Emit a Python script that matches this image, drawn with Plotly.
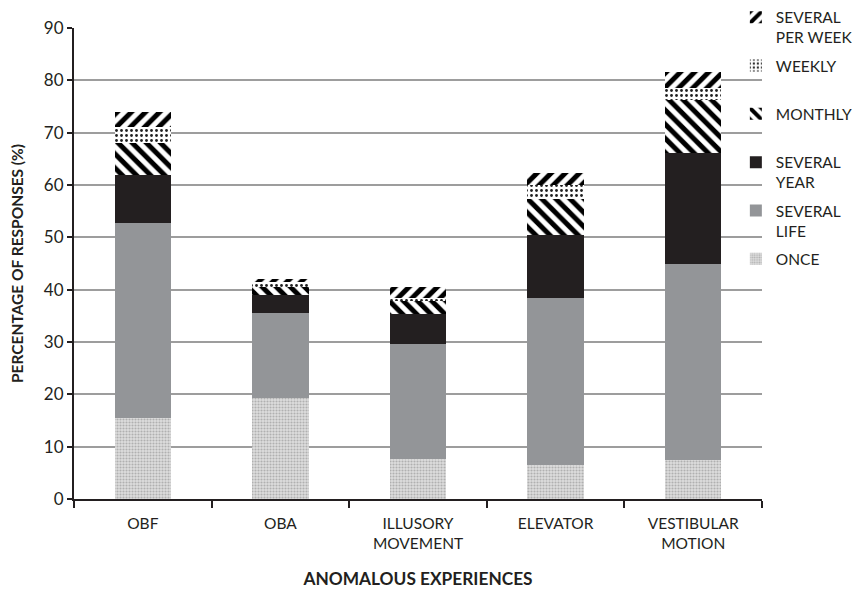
import plotly.graph_objects as go

categories = ["OBF", "OBA", "ILLUSORY<br>MOVEMENT", "ELEVATOR", "VESTIBULAR<br>MOTION"]
once = [15.5, 19.3, 7.6, 6.5, 7.5]
several_life = [37.2, 16.2, 22.0, 31.9, 37.4]
several_year = [9.2, 3.5, 5.7, 12.0, 21.3]
monthly = [6.1, 1.6, 2.6, 6.9, 10.0]
weekly = [3.1, 0.9, 0.6, 2.7, 2.3]
several_per_week = [2.9, 0.5, 2.1, 2.3, 3.0]
y_ticks = [0, 10, 20, 30, 40, 50, 60, 70, 80, 90]

FONT = "Lato"

series = [
    ("ONCE", once, dict(color="#d4d4d4", pattern=dict(shape=".", fgcolor="#b0b0b0", bgcolor="#dedede", size=3, solidity=0.4, fgopacity=1))),
    ("SEVERAL<br>LIFE", several_life, dict(color="#939598")),
    ("SEVERAL<br>YEAR", several_year, dict(color="#231f20")),
    ("MONTHLY<br> ", monthly, dict(color="white", pattern=dict(shape="\\", fgcolor="#000000", bgcolor="white", size=10, solidity=0.5, fgopacity=1))),
    ("WEEKLY<br> ", weekly, dict(color="white", pattern=dict(shape=".", fgcolor="#222222", bgcolor="white", size=5, solidity=0.25, fgopacity=1))),
    ("SEVERAL<br>PER WEEK", several_per_week, dict(color="white", pattern=dict(shape="/", fgcolor="#000000", bgcolor="white", size=10, solidity=0.5, fgopacity=1))),
]

fig = go.Figure()
n = len(series)
for i, (name, vals, marker) in enumerate(series):
    marker = dict(marker)
    marker["line"] = dict(width=0)
    fig.add_trace(go.Bar(x=categories, y=vals, name=name, marker=marker,
                         legendgroup=f"g{i}", legendrank=(n - i) * 10))

fig.update_layout(
    width=852, height=581,
    barmode="stack", bargap=0.59,
    plot_bgcolor="white", paper_bgcolor="white",
    margin=dict(l=66, r=98, t=20, b=90, autoexpand=False),
    font=dict(family=FONT, size=15, color="#231f20"),
    legend=dict(
        traceorder="grouped", tracegroupgap=5,
        x=0.962, xanchor="left", y=1.058, yanchor="top",
        bgcolor="rgba(0,0,0,0)", font=dict(family=FONT, size=15.5, color="#231f20"),
        valign="top", itemwidth=30,
    ),
    xaxis=dict(
        title=dict(text="<b>ANOMALOUS EXPERIENCES</b>", font=dict(family=FONT, size=17.3), standoff=26),
        showline=True, linecolor="#231f20", linewidth=2,
        ticks="outside", tickson="boundaries", ticklen=7, tickcolor="#231f20", tickwidth=1.5,
        tickfont=dict(family=FONT, size=15.5), ticklabelstandoff=9,
        showgrid=False, automargin=False,
    ),
    yaxis=dict(
        title=dict(text="<b>PERCENTAGE OF RESPONSES (%)</b>", font=dict(family=FONT, size=15.5), standoff=24),
        range=[0, 90], tickvals=y_ticks,
        showline=True, linecolor="#231f20", linewidth=2,
        ticks="outside", ticklen=5, tickcolor="#231f20", tickwidth=1.5,
        showgrid=True, gridcolor="#9d9d9d", gridwidth=1.5,
        tickfont=dict(family=FONT, size=17),
        zeroline=False, automargin=False,
    ),
)

fig.write_html("out.html")
